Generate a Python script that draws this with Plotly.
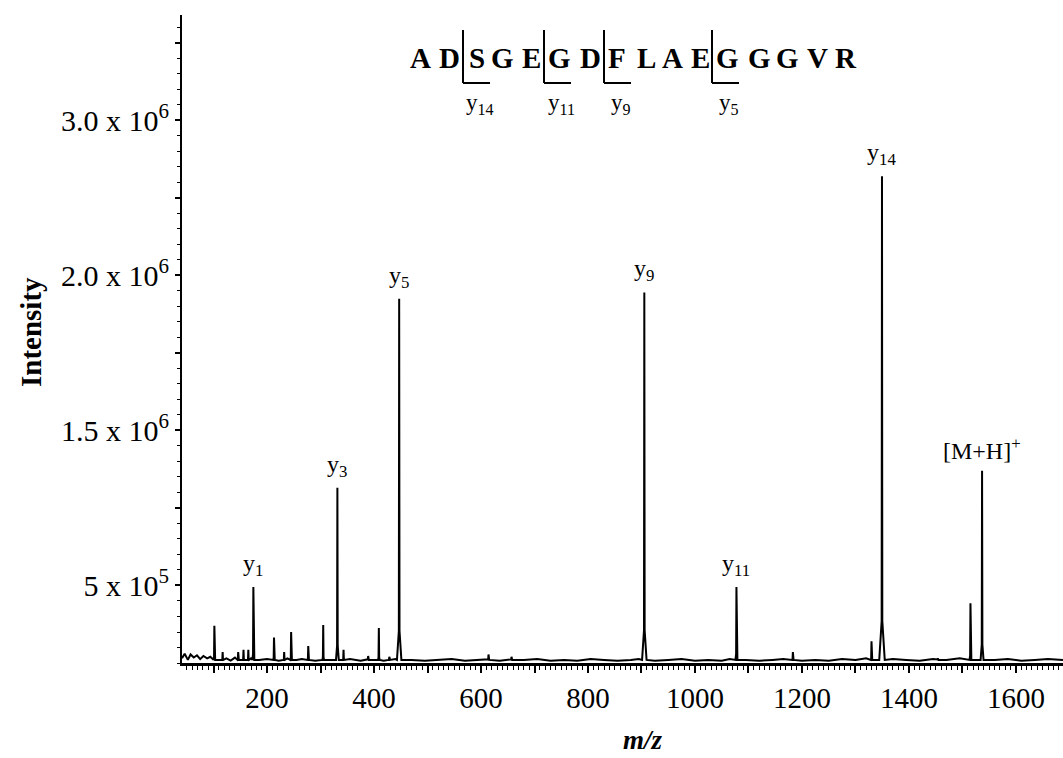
import plotly.graph_objects as go

# ---------------- data ----------------
# peak positions (m/z) and intensities (x 1e6 counts)
peak_mz = [101.5, 117, 146, 156, 165, 174.4, 213, 232, 245, 277, 305, 331.5, 343,
           389, 409, 428.6, 447, 614, 657, 905.3, 1077.5, 1183, 1330, 1349.6,
           1454, 1515, 1536.7]
peak_int = [0.24, 0.07, 0.07, 0.085, 0.085, 0.49, 0.165, 0.07, 0.20, 0.11, 0.245, 1.13, 0.085,
            0.045, 0.225, 0.04, 2.35, 0.055, 0.04, 2.39, 0.49, 0.07, 0.14, 3.14,
            0.03, 0.385, 1.24]

# baseline noise (m/z, intensity x 1e6)
noise_mz = [41, 46, 52, 57, 63, 69, 75, 81, 88, 94,
            108, 124, 132, 140, 152, 170, 185, 200, 222, 238,
            255, 265, 290, 320, 355, 375, 398, 418, 440, 470,
            495, 520, 545, 570, 595, 635, 680, 705, 730, 755,
            780, 805, 830, 855, 880, 895, 925, 950, 975, 1000,
            1025, 1050, 1065, 1095, 1120, 1145, 1165, 1200, 1225, 1250,
            1275, 1300, 1320, 1370, 1395, 1420, 1445, 1470, 1495, 1560,
            1585, 1610, 1635, 1660, 1688]
noise_int = [0.03, 0.06, 0.02, 0.055, 0.035, 0.05, 0.025, 0.045, 0.03, 0.04,
             0.02, 0.03, 0.015, 0.035, 0.02, 0.03, 0.02, 0.025, 0.015, 0.03,
             0.02, 0.025, 0.015, 0.02, 0.025, 0.015, 0.02, 0.015, 0.025, 0.02,
             0.015, 0.02, 0.025, 0.015, 0.02, 0.015, 0.02, 0.025, 0.015, 0.02,
             0.015, 0.025, 0.02, 0.015, 0.02, 0.025, 0.015, 0.02, 0.025, 0.015,
             0.02, 0.015, 0.025, 0.02, 0.015, 0.02, 0.025, 0.015, 0.02, 0.015,
             0.025, 0.02, 0.03, 0.025, 0.02, 0.015, 0.025, 0.02, 0.03, 0.02,
             0.025, 0.015, 0.02, 0.025, 0.02]

# labelled ions
label_mz = [174.4, 331.5, 447, 905.3, 1077.5, 1349.6, 1536.7]
label_int = [0.49, 1.13, 2.35, 2.39, 0.49, 3.14, 1.24]
label_text = ["y<sub>1</sub>", "y<sub>3</sub>", "y<sub>5</sub>", "y<sub>9</sub>",
              "y<sub>11</sub>", "y<sub>14</sub>", "[M+H]<sup>+</sup>"]

# axis ticks
y_tickvals = [0.5e6, 1.0e6, 1.5e6, 2.0e6, 2.5e6, 3.0e6, 3.5e6, 4.0e6]
y_ticktext = ["5 x 10<sup>5</sup>", "", "1.5 x 10<sup>6</sup>", "", "2.0 x 10<sup>6</sup>", "",
              "3.0 x 10<sup>6</sup>", ""]
x_tickvals = list(range(100, 1700, 100))
x_ticktext = [str(v) if v % 200 == 0 else "" for v in x_tickvals]

# peptide sequence and cleavage sites
sequence = list("ADSGEGDFLAEGGGVR")
cleave_labels = ["y<sub>14</sub>", "y<sub>11</sub>", "y<sub>9</sub>", "y<sub>5</sub>"]

# ---------------- layout constants (pixels) ----------------
W, H = 1063, 758
ML, MR, MT, MB = 182, 0, 15, 95
PW, PH = W - ML - MR, H - MT - MB
XR = [41, 1688]
YR = [0, 4.18e6]
FONT = "Liberation Serif"

def px2x(px):
    return (px - ML) / PW

def py2y(py):
    return (H - MB - py) / PH

letter_px = [420, 449, 477, 502, 531, 559, 590, 617, 646, 672, 700, 727, 759, 787, 817, 846]
bracket_px = [463, 544, 604, 712]

# ---------------- build trace ----------------
b0 = 0.02
pts = []
for m, h in zip(peak_mz, peak_int):
    wb = 1.2 + 4.0 * h / 3.2
    pts += [(m - wb, b0), (m - 0.6, b0 + 0.08 * h), (m, h), (m + 0.6, b0 + 0.08 * h), (m + wb, b0)]
for m, v in zip(noise_mz, noise_int):
    if all(abs(m - pm) > 1.2 + 4.0 * ph / 3.2 + 1 for pm, ph in zip(peak_mz, peak_int)):
        pts.append((m, v))
pts.sort()
xs = [p[0] for p in pts]
ys = [p[1] * 1e6 for p in pts]

fig = go.Figure()
fig.add_trace(go.Scatter(x=xs, y=ys, mode="lines",
                         line=dict(color="black", width=2), hoverinfo="skip",
                         showlegend=False))

annotations = []
for m, h, t in zip(label_mz, label_int, label_text):
    annotations.append(dict(x=m, y=h * 1e6, xref="x", yref="y", text=t, showarrow=False,
                            yanchor="bottom", yshift=5,
                            font=dict(family=FONT, size=24, color="black")))

for ch, px in zip(sequence, letter_px):
    annotations.append(dict(x=px2x(px), y=py2y(58), xref="paper", yref="paper", text="<b>%s</b>" % ch,
                            showarrow=False, xanchor="center", yanchor="middle",
                            font=dict(family=FONT, size=29, color="black")))

shapes = []
for bx, lab in zip(bracket_px, cleave_labels):
    shapes.append(dict(type="line", xref="paper", yref="paper", x0=px2x(bx), x1=px2x(bx),
                       y0=py2y(30), y1=py2y(83), line=dict(color="black", width=2)))
    shapes.append(dict(type="line", xref="paper", yref="paper", x0=px2x(bx), x1=px2x(bx + 27),
                       y0=py2y(83), y1=py2y(83), line=dict(color="black", width=2)))
    annotations.append(dict(x=px2x(bx + 17), y=py2y(104), xref="paper", yref="paper", text=lab,
                            showarrow=False, xanchor="center", yanchor="middle",
                            font=dict(family=FONT, size=23, color="black")))

annotations.append(dict(x=px2x(31), y=py2y(332), xref="paper", yref="paper", text="<b>Intensity</b>",
                        textangle=-90, showarrow=False, xanchor="center", yanchor="middle",
                        font=dict(family=FONT, size=29, color="black")))
annotations.append(dict(x=px2x(643), y=py2y(740), xref="paper", yref="paper", text="<b><i>m/z</i></b>",
                        showarrow=False, xanchor="center", yanchor="middle",
                        font=dict(family=FONT, size=27, color="black")))

fig.update_layout(
    width=W, height=H,
    margin=dict(l=ML, r=MR, t=MT, b=MB),
    paper_bgcolor="white", plot_bgcolor="white",
    annotations=annotations, shapes=shapes,
    xaxis=dict(range=XR, showgrid=False, zeroline=False, showline=True, linecolor="black", linewidth=3,
               ticks="outside", ticklen=7, tickwidth=1.5, tickcolor="black",
               tickvals=x_tickvals, ticktext=x_ticktext,
               tickfont=dict(family=FONT, size=29, color="black"),
               minor=dict(dtick=10, tick0=0, ticks="outside", ticklen=4, tickwidth=1, tickcolor="black")),
    yaxis=dict(range=YR, showgrid=False, zeroline=False, showline=True, linecolor="black", linewidth=2,
               ticks="outside", ticklen=5, tickwidth=1.5, tickcolor="black",
               tickvals=y_tickvals, ticktext=y_ticktext,
               tickfont=dict(family=FONT, size=30, color="black"),
               minor=dict(dtick=1e5, tick0=0, ticks="outside", ticklen=3, tickwidth=1, tickcolor="black")),
)

fig.write_html("out.html", config={"displayModeBar": False},
               post_script="document.body.style.margin='0';document.body.style.overflow='hidden';")
